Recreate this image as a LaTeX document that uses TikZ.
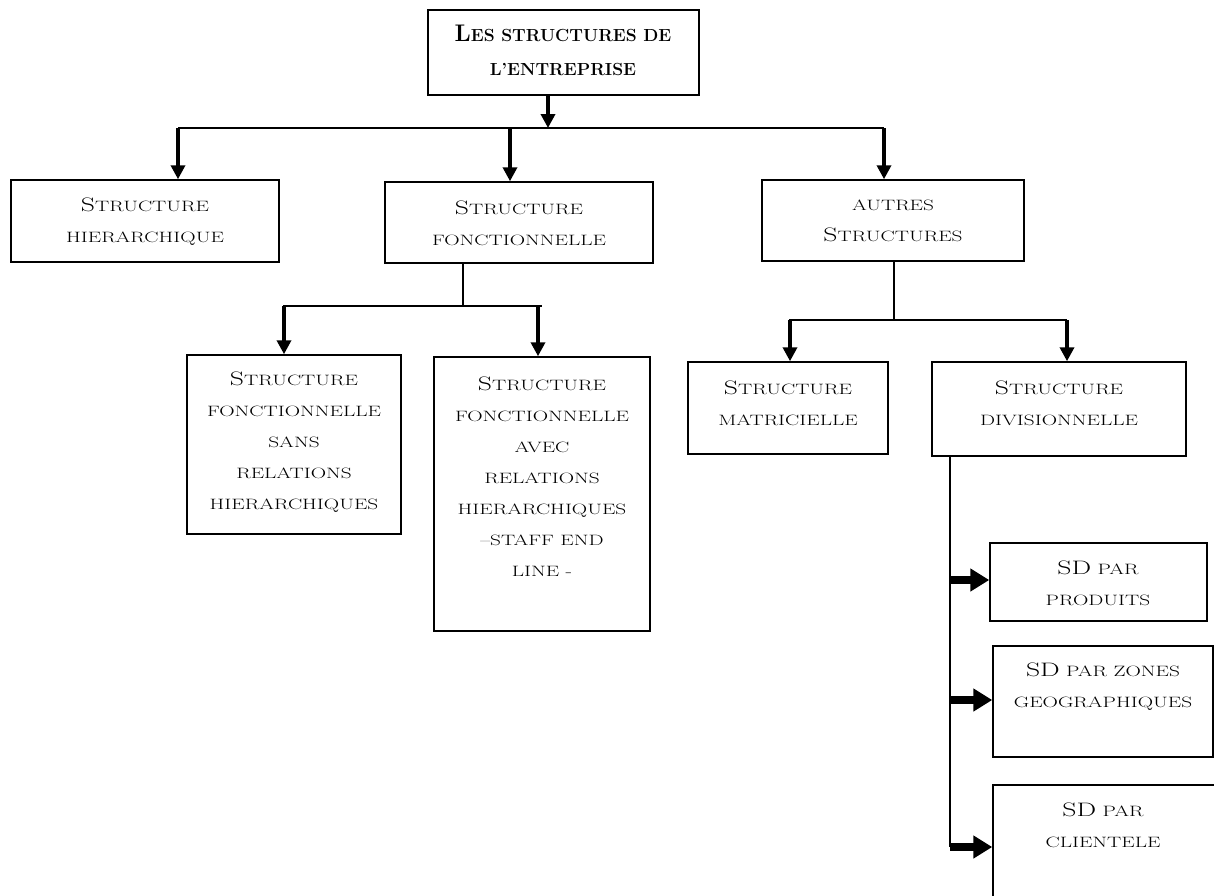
\documentclass[tikz,border=0pt]{standalone}
\usepackage{fontspec}
\usetikzlibrary{arrows.meta,calc}
\newfontfamily\cfont[FakeStretch=1.42]{Latin Modern Roman}
\newcommand\B[1]{{\fontsize{19.5}{31}\selectfont #1}}
\newcommand\TB[1]{{\fontsize{24}{34}\selectfont #1}}
\begin{document}
\begin{tikzpicture}[x=1pt,y=-1pt,
  box/.style={draw, line width=1.5pt, inner sep=0pt},
  txt/.style={align=center, font=\cfont\fontsize{15}{31}\selectfont, inner sep=0pt},
  ttl/.style={align=center, font=\fontsize{17.5}{34}\selectfont\bfseries, inner sep=0pt},
  link/.style={line width=1.3pt},
  down/.style={line width=3.5pt, -{Triangle[width=14pt,length=14pt]}},
  side/.style={line width=8pt, -{Triangle[width=22pt,length=19pt]}}]
\useasboundingbox (0,0) rectangle (1214,895);
\clip (0,0) rectangle (1214,895);
% boxes
\node[box, minimum width=271, minimum height=85] (top) at (563.5,52.5) {};
\node[box, minimum width=268, minimum height=82] (hier) at (145,221) {};
\node[box, minimum width=268, minimum height=81] (fonc) at (519,222.5) {};
\node[box, minimum width=262, minimum height=81] (autres) at (893,220.5) {};
\node[box, minimum width=214, minimum height=179] (sans) at (294,444.5) {};
\node[box, minimum width=216, minimum height=274] (avec) at (542,494) {};
\node[box, minimum width=200, minimum height=92] (matr) at (788,408) {};
\node[box, minimum width=254, minimum height=94] (div) at (1059,409) {};
\node[box, minimum width=217, minimum height=78] (prod) at (1098.5,582) {};
\node[box, minimum width=220, minimum height=111] (zones) at (1103,701.5) {};
\node[box, minimum width=247, minimum height=145] (client) at (1116.5,857.5) {};
% texts
\node[ttl] (top-t) at (563,50) {\TB{L}ES STRUCTURES DE\\L'ENTREPRISE};
\node[txt] (hier-t) at (145,222) {\B{S}TRUCTURE\\HIERARCHIQUE};
\node[txt] (fonc-t) at (519,223) {\B{S}TRUCTURE\\FONCTIONNELLE};
\node[txt] (autres-t) at (893,221) {AUTRES\\\B{S}TRUCTURES};
\node[txt] (sans-t) at (294,442.5) {\B{S}TRUCTURE\\FONCTIONNELLE\\SANS\\RELATIONS\\HIERARCHIQUES};
\node[txt] (avec-t) at (542,476.5) {\B{S}TRUCTURE\\FONCTIONNELLE\\AVEC\\RELATIONS\\HIERARCHIQUES\\–STAFF END\\LINE -};
\node[txt] (matr-t) at (788,403.5) {\B{S}TRUCTURE\\MATRICIELLE};
\node[txt] (div-t) at (1059,403.5) {\B{S}TRUCTURE\\DIVISIONNELLE};
\node[txt] (prod-t) at (1098,583.5) {\B{SD} PAR\\PRODUITS};
\node[txt] (zones-t) at (1103,687) {\B{SD} PAR ZONES\\GEOGRAPHIQUES};
\node[txt] (client-t) at (1103,825) {\B{SD} PAR\\CLIENTELE};
% junction coordinates
\coordinate (j0) at (548,128);
\coordinate (ha) at (178,128);
\coordinate (hm) at (510,128);
\coordinate (hb) at (884,128);
\coordinate (f0) at (463,306);
\coordinate (fa) at (283,306);
\coordinate (fa2) at (284,306);
\coordinate (fb) at (538,306);
\coordinate (fe) at (542,306);
\coordinate (a0) at (894,320);
\coordinate (aa) at (789,320);
\coordinate (aa2) at (790,320);
\coordinate (ab) at (1067,320);
\coordinate (d0) at (950,847);
\coordinate (d1) at (950,580);
\coordinate (d2) at (950,700);
% connectors
\draw[down] (top.south -| j0) -- (j0);
\draw[link] (ha) -- (hb);
\draw[down] (ha) -- (ha |- hier.north);
\draw[down] (hm) -- (hm |- fonc.north);
\draw[down] (hb) -- (hb |- autres.north);
\draw[link] (fonc.south -| f0) -- (f0);
\draw[link] (fa) -- (fe);
\draw[down] (fa2) -- (fa2 |- sans.north);
\draw[down] (fb) -- (fb |- avec.north);
\draw[link] (autres.south -| a0) -- (a0);
\draw[link] (aa) -- (ab);
\draw[down] (aa2) -- (aa2 |- matr.north);
\draw[down] (ab) -- (ab |- div.north);
\draw[link] (div.south -| d0) -- (d0);
\draw[side] (d1) -- (d1 -| prod.west);
\draw[side] (d2) -- (d2 -| zones.west);
\draw[side] (d0) -- (d0 -| client.west);
\end{tikzpicture}
\end{document}
